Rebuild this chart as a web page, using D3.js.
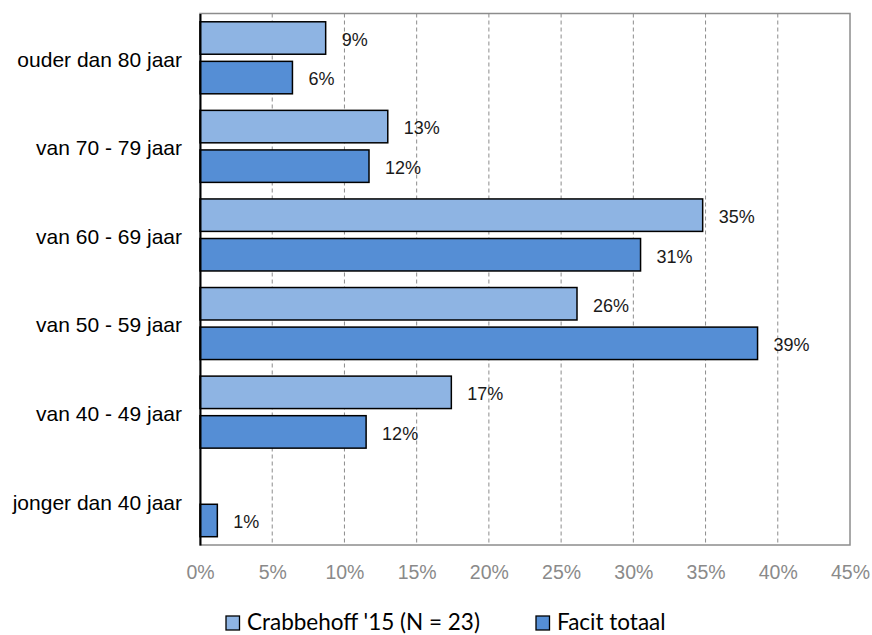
<!DOCTYPE html>
<html>
<head>
<meta charset="utf-8">
<script src="https://cdn.jsdelivr.net/npm/d3@7"></script>
<style>
  html, body { margin: 0; padding: 0; background: #fff; }
  svg { display: block; }
</style>
</head>
<body>
<svg id="chart" width="872" height="635"></svg>
<script>
// Age groups, top to bottom
const categories = [
  "ouder dan 80 jaar",
  "van 70 - 79 jaar",
  "van 60 - 69 jaar",
  "van 50 - 59 jaar",
  "van 40 - 49 jaar",
  "jonger dan 40 jaar"
];
const seriesNames = ["Crabbehoff '15 (N = 23)", "Facit totaal"];
const crabbehoff = [8.7, 13.0, 34.8, 26.1, 17.4, 0];
const facitTotaal = [6.4, 11.7, 30.5, 38.6, 11.5, 1.2];
const xTicks = [0, 5, 10, 15, 20, 25, 30, 35, 40, 45];
const seriesColors = ["#8EB4E3", "#558ED5"];

const svg = d3.select("#chart");
const plot = { left: 200, right: 850, top: 13.5, bottom: 545 };

const x = d3.scaleLinear().domain([0, 45]).range([plot.left, plot.right]);
const y = d3.scaleBand().domain(categories).range([plot.top, plot.bottom])
  .paddingInner(0.187).paddingOuter(0.0935);
const ySub = d3.scaleBand().domain(seriesNames).range([0, y.bandwidth()])
  .paddingInner(0.18).paddingOuter(0);

const rows = categories.map((c, i) => ({
  category: c,
  values: [
    { series: seriesNames[0], value: crabbehoff[i], color: seriesColors[0] },
    { series: seriesNames[1], value: facitTotaal[i], color: seriesColors[1] }
  ]
}));

// Plot frame (top, right, bottom in grey)
svg.append("rect")
  .attr("x", plot.left).attr("y", plot.top)
  .attr("width", plot.right - plot.left).attr("height", plot.bottom - plot.top)
  .attr("fill", "none").attr("stroke", "#8c8c8c").attr("stroke-width", 1.5);

// Dashed vertical gridlines
svg.append("g").selectAll("line")
  .data(xTicks.filter(t => t > 0 && t < 45))
  .join("line")
  .attr("x1", d => x(d)).attr("x2", d => x(d))
  .attr("y1", plot.top).attr("y2", plot.bottom)
  .attr("stroke", "#8c8c8c").attr("stroke-width", 1)
  .attr("stroke-dasharray", "4,3");

// Bars
const groups = svg.append("g").selectAll("g")
  .data(rows).join("g")
  .attr("transform", d => `translate(0,${y(d.category)})`);

groups.selectAll("rect")
  .data(d => d.values.filter(v => v.value > 0))
  .join("rect")
  .attr("x", x(0))
  .attr("y", d => ySub(d.series))
  .attr("width", d => x(d.value) - x(0))
  .attr("height", ySub.bandwidth())
  .attr("fill", d => d.color)
  .attr("stroke", "#000").attr("stroke-width", 1.5);

// Value labels
groups.selectAll("text")
  .data(d => d.values.filter(v => v.value > 0))
  .join("text")
  .attr("x", d => x(d.value) + 16)
  .attr("y", d => ySub(d.series) + ySub.bandwidth() / 2 + 1.5)
  .attr("dy", "0.35em")
  .attr("font-family", "'Liberation Sans', Arial, sans-serif")
  .attr("font-size", 18)
  .attr("fill", "#1a1a1a")
  .text(d => Math.round(d.value) + "%");

// Category axis
const yAxis = svg.append("g")
  .attr("transform", `translate(${plot.left},0)`)
  .call(d3.axisLeft(y).tickSize(0).tickPadding(18));
yAxis.select(".domain").attr("stroke", "#000").attr("stroke-width", 2);
yAxis.selectAll("text")
  .attr("dy", "0.42em")
  .attr("font-family", "'Liberation Sans', Arial, sans-serif")
  .attr("font-size", 21)
  .attr("fill", "#000");

// Value axis
const xAxis = svg.append("g")
  .attr("transform", `translate(0,${plot.bottom})`)
  .call(d3.axisBottom(x).tickValues(xTicks).tickFormat(d => d + "%").tickSize(0).tickPadding(20));
xAxis.select(".domain").remove();
xAxis.selectAll("text")
  .attr("font-family", "'Liberation Sans', Arial, sans-serif")
  .attr("font-size", 19.5)
  .attr("fill", "#8a8a8a");

// Legend
const legendItems = [
  { name: seriesNames[0], color: seriesColors[0], x: 226 },
  { name: seriesNames[1], color: seriesColors[1], x: 536 }
];
const legend = svg.append("g").selectAll("g")
  .data(legendItems).join("g")
  .attr("transform", d => `translate(${d.x},616)`);
legend.append("rect")
  .attr("width", 13.5).attr("height", 14)
  .attr("fill", d => d.color)
  .attr("stroke", "#000").attr("stroke-width", 1.3);
legend.append("text")
  .attr("x", 21).attr("y", 14)
  .attr("font-family", "Lato, 'Open Sans', sans-serif")
  .attr("font-size", 22.5)
  .attr("fill", "#000")
  .text(d => d.name);
</script>
</body>
</html>
